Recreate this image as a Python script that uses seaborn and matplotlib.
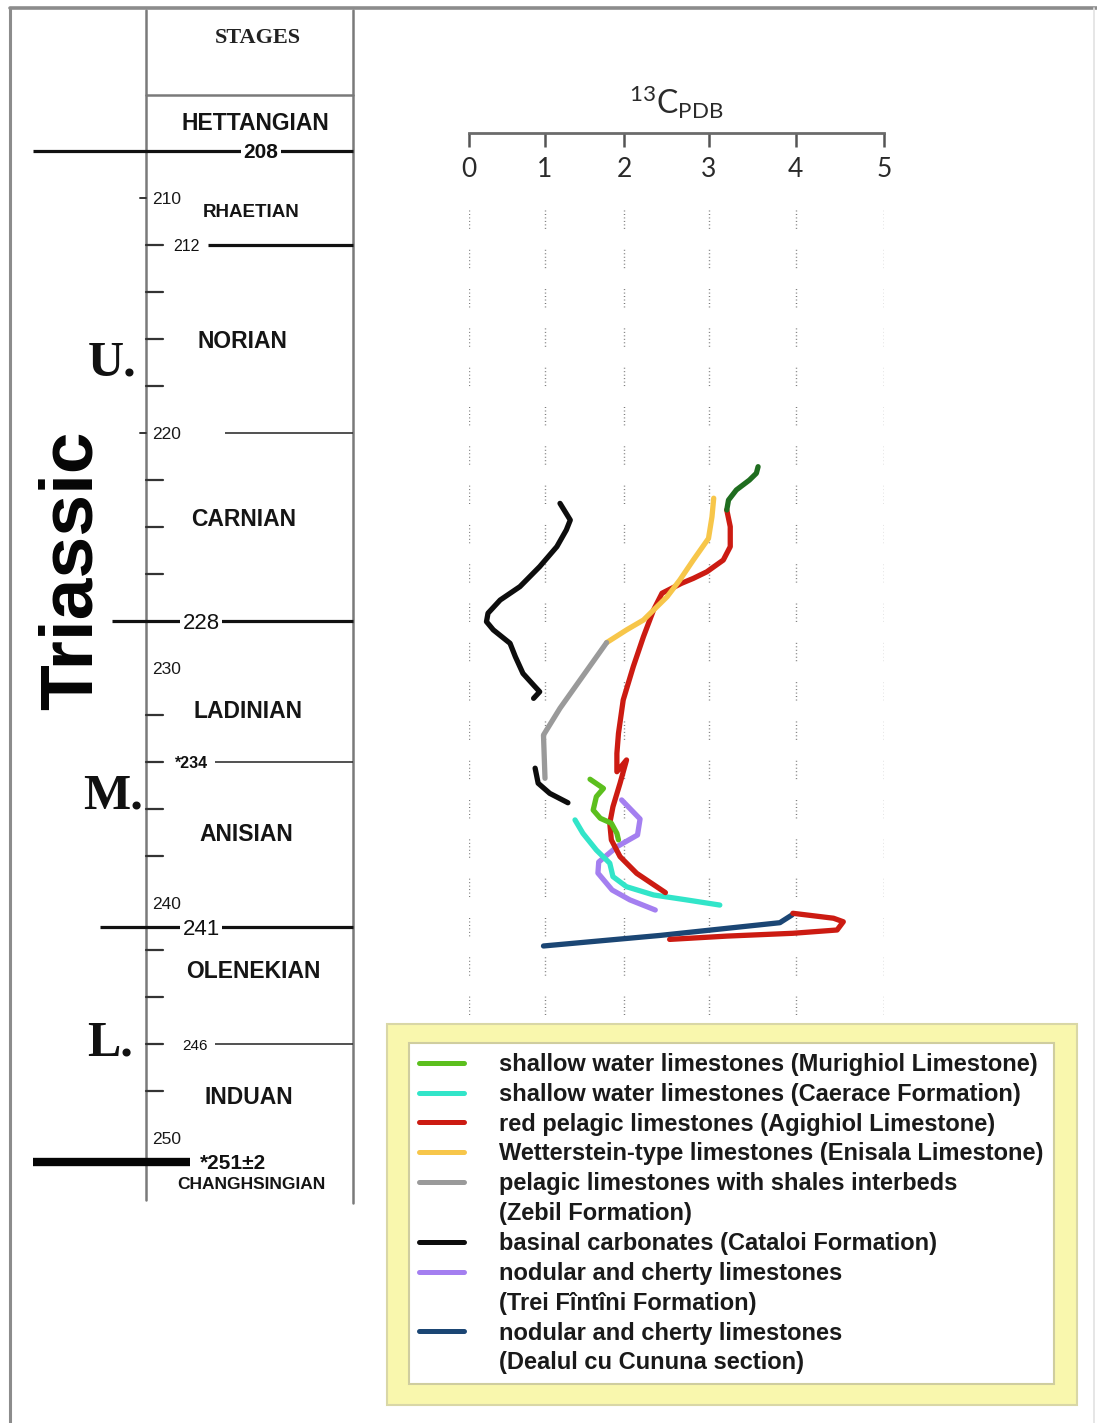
import numpy as np
import pandas as pd
import matplotlib
matplotlib.use("Agg")
import matplotlib.pyplot as plt
from matplotlib.lines import Line2D
from matplotlib.patches import Rectangle
from matplotlib.font_manager import FontProperties
import seaborn as sns

# ---------------------------------------------------------------------------
# delta13C (per mil, PDB) against age (Ma), Triassic of North Dobrogea
# ---------------------------------------------------------------------------
murighiol_d13c = [1.57, 1.74, 1.65, 1.61, 1.70, 1.84, 1.91, 1.93]
murighiol_age = [234.73, 235.12, 235.47, 236.04, 236.39, 236.60, 237.03, 237.31]

murighiol_upper_d13c = [3.21, 3.23, 3.32, 3.47, 3.55, 3.57]
murighiol_upper_age = [223.28, 222.86, 222.43, 222.01, 221.72, 221.44]

caerace_d13c = [1.38, 1.48, 1.65, 1.82, 1.86, 2.03, 2.35, 2.74, 3.13]
caerace_age = [236.46, 237.03, 237.74, 238.30, 238.87, 239.30, 239.65, 239.86, 240.08]

agighiol_upper_d13c = [3.21, 3.25, 3.25, 3.17, 2.98, 2.82, 2.68, 2.45, 2.35, 2.23, 2.11,
                       1.99, 1.93, 1.91, 1.91, 2.03, 1.95, 1.86, 1.82, 1.84, 1.95, 2.15, 2.49]
agighiol_upper_age = [223.28, 223.99, 224.84, 225.41, 225.91, 226.19, 226.40, 226.82, 227.53,
                      228.67, 229.94, 231.36, 232.78, 233.63, 234.41, 233.91, 234.90, 235.90,
                      236.60, 237.31, 238.02, 238.73, 239.55]
agighiol_lower_d13c = [3.97, 4.43, 4.54, 4.47, 3.97, 3.21, 2.54]
agighiol_lower_age = [240.43, 240.64, 240.79, 241.14, 241.28, 241.40, 241.54]

enisala_d13c = [3.06, 3.04, 3.00, 2.82, 2.66, 2.51, 2.23, 2.03, 1.78]
enisala_age = [222.78, 223.57, 224.49, 225.41, 226.26, 226.97, 227.96, 228.38, 228.92]

zebil_d13c = [1.78, 1.19, 0.98, 1.00]
zebil_age = [228.92, 231.71, 232.85, 234.69]

cataloi_upper_d13c = [1.19, 1.32, 1.27, 1.15, 0.93, 0.67, 0.41, 0.25, 0.23, 0.32, 0.54,
                      0.61, 0.71, 0.87, 0.93, 0.85]
cataloi_upper_age = [223.00, 223.71, 224.13, 224.84, 225.69, 226.54, 227.11, 227.67, 228.03,
                     228.38, 228.95, 229.52, 230.23, 230.80, 231.01, 231.29]
cataloi_lower_d13c = [0.87, 0.91, 1.06, 1.29]
cataloi_lower_age = [234.26, 234.90, 235.33, 235.73]

trei_fintini_d13c = [1.97, 2.19, 2.16, 1.91, 1.68, 1.67, 1.85, 2.07, 2.37]
trei_fintini_age = [235.61, 236.42, 237.10, 237.60, 238.25, 238.72, 239.44, 239.86, 240.29]

cununa_d13c = [0.98, 2.43, 3.82, 3.96]
cununa_age = [241.82, 241.37, 240.83, 240.50]

d13c_ticks = [0, 1, 2, 3, 4, 5]

# time scale
boundary_ages = [208, 212, 220, 228, 234, 241, 246, 251]
boundary_labels = ["208", "212", "220", "228", "*234", "241", "246", "*251\u00b12"]
minor_tick_ages = [212, 214, 216, 218, 222, 224, 226, 232, 234, 236, 238, 242, 244, 246, 248]
decade_ages = [210, 220, 230, 240, 250]
stage_names = ["HETTANGIAN", "RHAETIAN", "NORIAN", "CARNIAN", "LADINIAN",
               "ANISIAN", "OLENEKIAN", "INDUAN", "CHANGHSINGIAN"]

legend_labels = [
    "shallow water limestones (Murighiol Limestone)",
    "shallow water limestones (Caerace Formation)",
    "red pelagic limestones (Agighiol Limestone)",
    "Wetterstein-type limestones (Enisala Limestone)",
    "pelagic limestones with shales interbeds",
    "(Zebil Formation)",
    "basinal carbonates (Cataloi Formation)",
    "nodular and cherty limestones",
    "(Trei F\u00eent\u00eeni Formation)",
    "nodular and cherty limestones",
    "(Dealul cu Cununa section)",
]

# ---------------------------------------------------------------------------
# assemble long-form table
# ---------------------------------------------------------------------------
pieces = [
    ("Cununa", 0, cununa_d13c, cununa_age),
    ("Trei Fintini", 0, trei_fintini_d13c, trei_fintini_age),
    ("Caerace", 0, caerace_d13c, caerace_age),
    ("Agighiol", 0, agighiol_upper_d13c, agighiol_upper_age),
    ("Agighiol", 1, agighiol_lower_d13c, agighiol_lower_age),
    ("Murighiol", 0, murighiol_d13c, murighiol_age),
    ("Murighiol upper", 0, murighiol_upper_d13c, murighiol_upper_age),
    ("Enisala", 0, enisala_d13c, enisala_age),
    ("Zebil", 0, zebil_d13c, zebil_age),
    ("Cataloi", 0, cataloi_upper_d13c, cataloi_upper_age),
    ("Cataloi", 1, cataloi_lower_d13c, cataloi_lower_age),
]
frames = []
for name, seg, xs, ys in pieces:
    frames.append(pd.DataFrame({"series": name, "segment": seg, "d13C": xs, "age": ys}))
df = pd.concat(frames, ignore_index=True)

colors = {
    "Murighiol": "#5cbf1e",
    "Murighiol upper": "#1f6d1f",
    "Caerace": "#32e5c9",
    "Agighiol": "#cc1b12",
    "Enisala": "#f7c64a",
    "Zebil": "#9a9a9a",
    "Cataloi": "#0d0d0d",
    "Trei Fintini": "#a47ff0",
    "Cununa": "#1b4674",
}
draw_order = ["Cununa", "Trei Fintini", "Caerace", "Agighiol", "Murighiol",
              "Murighiol upper", "Enisala", "Zebil", "Cataloi"]

# ---------------------------------------------------------------------------
# figure geometry (pixels) and the age <-> page mapping
# ---------------------------------------------------------------------------
W, H = 1097, 1423
AGE0, ROW0, PX_PER_MA = 230.0, 668.0, 23.518


def age_at(row):
    return AGE0 + (row - ROW0) / PX_PER_MA


sns.set_style("white")
plt.rcParams["font.family"] = ["Liberation Sans", "DejaVu Sans"]
plt.rcParams["mathtext.fontset"] = "custom"
plt.rcParams["mathtext.rm"] = "Lato"
plt.rcParams["mathtext.it"] = "Lato"

fig = plt.figure(figsize=(W / 100, H / 100), dpi=100)
fig.patch.set_facecolor("white")

# page-wide layer for the time-scale column, frame and legend box
page = fig.add_axes([0, 0, 1, 1], zorder=0)
page.set_xlim(0, W)
page.set_ylim(age_at(H), age_at(0))
page.axis("off")

# data panel
x_left, x_right, top_row = 469, 884, 133
ax = fig.add_axes([x_left / W, 0, (x_right - x_left) / W, (H - top_row) / H], zorder=2)
ax.patch.set_alpha(0)

for name in draw_order:
    sub = df[df["series"] == name]
    sns.lineplot(data=sub, x="d13C", y="age", units="segment", estimator=None,
                 sort=False, color=colors[name], linewidth=3.8, legend=False, ax=ax,
                 solid_capstyle="round", solid_joinstyle="round", zorder=3)

# hand-drawn scale: unequal spacing between the integer ticks
tick_pos = np.array([469, 545, 624, 708.5, 795.5, 884], dtype=float)
tick_val = np.array(d13c_ticks, dtype=float)


def fwd(v):
    return np.interp(v, tick_val, tick_pos)


def inv(p):
    return np.interp(p, tick_pos, tick_val)


ax.set_xscale("function", functions=(fwd, inv))
ax.set_xlim(0, 5)
ax.set_ylim(age_at(H), age_at(top_row))
ax.set_xticks(d13c_ticks)
ax.set_xticklabels([str(t) for t in d13c_ticks])
ax.set_yticks([])
ax.set_ylabel("")
for side in ["left", "right", "bottom"]:
    ax.spines[side].set_visible(False)
ax.spines["top"].set_color("#6b6b6b")
ax.spines["top"].set_linewidth(2.0)
ax.tick_params(axis="x", top=True, bottom=False, labeltop=True, labelbottom=False,
               direction="in", length=10, width=1.8, color="#555555", pad=-35,
               labelsize=19, labelcolor="#2a2a2a")
for lbl in ax.get_xticklabels():
    lbl.set_fontfamily("Lato")
ax.xaxis.set_label_position("top")
ax.set_xlabel(r"$^{13}\mathrm{C}_{\mathrm{PDB}}$", fontsize=23, labelpad=14, color="#2a2a2a")

# dotted guide lines under each integer value
ax.vlines(d13c_ticks, age_at(210), age_at(1015), colors="#777777", linewidth=1.0,
          linestyles=[(0, (0.7, 1.8, 0.7, 1.8, 0.7, 1.8, 0.7, 1.8, 0.7, 1.8, 0.7, 15.1))],
          zorder=1)

# legend: yellow mount with white panel inside
page.add_patch(Rectangle((387, age_at(1024)), 1077 - 387, age_at(1405) - age_at(1024),
                         facecolor="#f9f7ad", edgecolor="#d9d7a6", linewidth=1.5, zorder=1))
handle_colors = ["Murighiol", "Caerace", "Agighiol", "Enisala", "Zebil", None,
                 "Cataloi", "Trei Fintini", None, "Cununa", None]
handles = []
for key in handle_colors:
    if key is None:
        handles.append(Line2D([], [], color="none", linewidth=3.6))
    else:
        handles.append(Line2D([], [], color=colors[key], linewidth=3.6))
leg = ax.legend(handles, legend_labels, loc="upper left",
                bbox_to_anchor=(409 / W, 1 - 1043 / H, (1054 - 409) / W, 0.0),
                bbox_transform=fig.transFigure, mode="expand", borderaxespad=0,
                frameon=True, fancybox=False, edgecolor="#cfcd9f", facecolor="white",
                framealpha=1, prop=FontProperties(family="Liberation Sans", weight="bold", size=17),
                handlelength=1.9, handletextpad=1.48, labelspacing=0.29, borderpad=0.42)
leg.get_frame().set_linewidth(1.5)
for t in leg.get_texts():
    t.set_color("#1a1a1a")

# ---------------------------------------------------------------------------
# time-scale column
# ---------------------------------------------------------------------------
gray = "#7a7a7a"
page.plot([146, 146], [age_at(10), age_at(1200)], color=gray, lw=1.8)
page.plot([353, 353], [age_at(10), age_at(1203)], color=gray, lw=1.8)
page.plot([146, 353], [age_at(95), age_at(95)], color=gray, lw=1.8)

# outer frame
page.plot([10, 10], [age_at(8), age_at(H)], color="#8c8c8c", lw=2.2, clip_on=False)
page.plot([10, W], [age_at(8), age_at(8)], color="#8c8c8c", lw=2.6, clip_on=False)
page.plot([1094, 1094], [age_at(8), age_at(H)], color="#e2e2e2", lw=1.2, clip_on=False)

# stage boundaries: (x start, x end, line width, colour, label x, size, weight, ha, gap)
boundary_style = [
    (33, 353, 2.3, "#111111", 261, 15, "bold", "center", True),
    (208, 353, 2.3, "#111111", 186, 11.5, "normal", "center", False),
    (225, 353, 1.2, "#333333", 152, 12.5, "normal", "left", False),
    (112, 353, 2.3, "#111111", 201, 16, "normal", "center", True),
    (215, 353, 1.2, "#333333", 192, 11.5, "bold", "center", False),
    (100, 353, 2.3, "#111111", 201, 16, "normal", "center", True),
    (215, 353, 1.2, "#333333", 195, 11, "normal", "center", False),
    (33, 190, 6.0, "#050505", 200, 15, "bold", "left", False),
]
for age, lab, st in zip(boundary_ages, boundary_labels, boundary_style):
    x0, x1, lw, col, lx, fs, fw, ha, gap = st
    page.plot([x0, x1], [age, age], color=col, lw=lw, solid_capstyle="butt", zorder=2)
    if age in decade_ages:
        continue
    bbox = dict(facecolor="white", edgecolor="none", pad=1.5) if gap else None
    page.text(lx, age, lab, fontsize=fs, fontweight=fw, ha=ha, va="center_baseline",
              color="#111111", bbox=bbox, zorder=3)

for age in minor_tick_ages:
    page.plot([146, 163], [age, age], color="#333333", lw=1.6, zorder=2)
for age in [210, 220]:
    page.plot([140, 146], [age, age], color="#333333", lw=1.4, zorder=2)
for age in decade_ages:
    page.text(152, age, str(age), fontsize=12.5, ha="left", va="center_baseline",
              color="#1a1a1a")

page.text(258, age_at(36), "STAGES", family="Liberation Serif", fontweight="bold",
          fontsize=16, ha="center", va="center_baseline", color="#222222")

stage_xy = [(255, 121, 16.5), (251, 211, 13.5), (242, 339, 16.5), (244, 517, 16.5),
            (248, 709, 16.5), (246, 832, 16.5), (253, 969, 16.5), (249, 1095, 16.5),
            (251, 1183, 12.5)]
for name, (sx, sy, fs) in zip(stage_names, stage_xy):
    page.text(sx, age_at(sy), name, fontsize=fs, fontweight="bold", ha="center",
              va="center_baseline", color="#151515")

page.text(72, age_at(570), "Triassic", fontsize=54, fontweight="bold", rotation=90,
          ha="center", va="center", color="#050505")
for txt, tx, ty in [("U.", 112, 358), ("M.", 113, 791), ("L.", 110, 1038)]:
    page.text(tx, age_at(ty), txt, family="Liberation Serif", fontweight="bold",
              fontsize=36, ha="center", va="center_baseline", color="#111111")

fig.savefig("out.png", dpi=100, facecolor="white")
